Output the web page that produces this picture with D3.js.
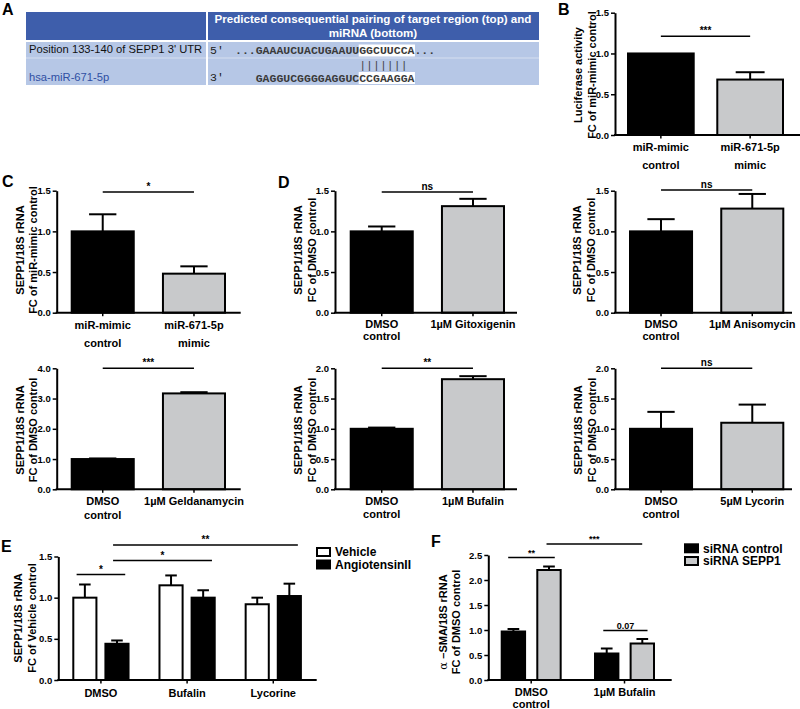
<!DOCTYPE html>
<html><head><meta charset="utf-8">
<script src="https://cdn.jsdelivr.net/npm/d3@7"></script>
<style>
body{margin:0;background:#fff}
svg{display:block}
</style>
</head><body>
<svg id="c" width="800" height="709" font-family='"Liberation Sans", Arial, Helvetica, sans-serif'></svg>
<script>
// ---------------- DATA ----------------
// Panel A (table)
const tableHeader = ["Predicted consequential pairing of target region (top) and", "miRNA (bottom)"];
const targetLabel = "Position 133-140 of SEPP1 3' UTR";
const mirnaLabel = "hsa-miR-671-5p";
const targetSeq = ["...GAAAUCUACUGAAUU", "GGCUUCCA", "..."];
const mirnaSeq = ["GAGGUCGGGGAGGUC", "CCGAAGGA"];
const pairing = "|||||||";

// Panel B
const bCats = ["miR-mimic\ncontrol", "miR-671-5p\nmimic"];
const bVals = [1.00, 0.68];
const bErrs = [0.00, 0.09];
const bSig = "***";

// Panel C (top) miRNA mimic
const c1Cats = ["miR-mimic\ncontrol", "miR-671-5p\nmimic"];
const c1Vals = [1.00, 0.48];
const c1Errs = [0.21, 0.09];
const c1Sig = "*";

// Panel C (bottom) Geldanamycin
const c2Cats = ["DMSO\ncontrol", "1µM Geldanamycin"];
const c2Vals = [1.00, 3.17];
const c2Errs = [0.02, 0.04];
const c2Sig = "***";

// Panel D
const dGitoCats = ["DMSO\ncontrol", "1µM Gitoxigenin"];
const dGitoVals = [1.00, 1.31];
const dGitoErrs = [0.06, 0.09];
const dAnisoCats = ["DMSO\ncontrol", "1µM Anisomycin"];
const dAnisoVals = [1.00, 1.28];
const dAnisoErrs = [0.15, 0.18];
const dBufCats = ["DMSO\ncontrol", "1µM Bufalin"];
const dBufVals = [1.00, 1.82];
const dBufErrs = [0.02, 0.05];
const dLycCats = ["DMSO\ncontrol", "5µM Lycorin"];
const dLycVals = [1.00, 1.10];
const dLycErrs = [0.28, 0.30];

// Panel E
const eGroups = ["DMSO", "Bufalin", "Lycorine"];
const eSeries = ["Vehicle", "AngiotensinII"];
const eVehicle = [1.00, 1.15, 0.92];
const eVehicleErr = [0.16, 0.12, 0.08];
const eAngII = [0.44, 1.00, 1.02];
const eAngIIErr = [0.04, 0.09, 0.15];

// Panel F
const fGroups = ["DMSO\ncontrol", "1µM Bufalin"];
const fSeries = ["siRNA control", "siRNA SEPP1"];
const fCtrl = [0.97, 0.53];
const fCtrlErr = [0.05, 0.10];
const fSEPP1 = [2.20, 0.73];
const fSEPP1Err = [0.07, 0.09];

// tick values
const ticks15 = [0, 0.5, 1.0, 1.5];
const ticks20 = [0, 0.5, 1.0, 1.5, 2.0];
const ticks25 = [0, 0.5, 1.0, 1.5, 2.0, 2.5];
const ticks40 = [0, 1, 2, 3, 4];

// ---------------- DRAW ----------------
const svg = d3.select("#c");
const FONT = '"Liberation Sans", Arial, Helvetica, sans-serif';
const MONO = '"Liberation Mono", "DejaVu Sans Mono", monospace';
const GREY = "#c8c9cb";
const fmt1 = d3.format(".1f");

function letter(t, x, y) {
  svg.append("text").attr("x", x).attr("y", y).attr("font-size", 16)
    .attr("font-weight", "bold").text(t);
}

function yTitle(lines, xs, cy, fs) {
  lines.forEach((ln, i) => {
    const t = svg.append("text")
      .attr("transform", `translate(${xs[i] + 4},${cy}) rotate(-90)`)
      .attr("text-anchor", "middle").attr("font-size", fs || 11)
      .attr("font-weight", "bold");
    if (typeof ln === "string") t.text(ln);
    else ln.forEach(part => t.append("tspan").attr("font-weight", part.w || "bold")
      .attr("font-family", part.f || null).text(part.t));
  });
}

function yAxis(y, x, ticks) {
  const g = svg.append("g").attr("transform", `translate(${x},0)`)
    .call(d3.axisLeft(y).tickValues(ticks).tickFormat(fmt1)
      .tickSize(4).tickSizeOuter(0).tickPadding(2));
  g.attr("font-family", FONT).attr("font-size", 9.5).attr("font-weight", "bold");
  g.select(".domain").attr("stroke-width", 2);
  g.selectAll(".tick line").attr("stroke-width", 1.5);
  g.selectAll(".tick text").attr("fill", "#000");
}

function xAxisLine(x1, x2, y0, tickXs) {
  svg.append("line").attr("x1", x1 - 1).attr("x2", x2).attr("y1", y0).attr("y2", y0)
    .attr("stroke", "#000").attr("stroke-width", 2);
  svg.append("g").selectAll("line").data(tickXs).join("line")
    .attr("x1", d => d).attr("x2", d => d).attr("y1", y0).attr("y2", y0 + 3.5)
    .attr("stroke", "#000").attr("stroke-width", 1.5);
}

function xLabels(items, cy, gap, fs) {
  items.forEach(it => {
    it.text.split("\n").forEach((ln, i) => {
      svg.append("text").attr("x", it.x).attr("y", cy + i * gap + 0.36 * (fs || 11))
        .attr("text-anchor", "middle").attr("font-size", fs || 11)
        .attr("font-weight", "bold").text(ln);
    });
  });
}

function sigLine(xa, xb, yv, label, fs) {
  svg.append("line").attr("x1", xa).attr("x2", xb).attr("y1", yv).attr("y2", yv)
    .attr("stroke", "#000").attr("stroke-width", 1.5);
  svg.append("text").attr("x", (xa + xb) / 2).attr("y", yv - 2)
    .attr("text-anchor", "middle").attr("font-size", fs || 10)
    .attr("font-weight", "bold").text(label);
}

function errBar(cx, w, yTop, yErr) {
  if (Math.abs(yTop - yErr) < 0.01) return;
  svg.append("line").attr("x1", cx).attr("x2", cx).attr("y1", yTop).attr("y2", yErr)
    .attr("stroke", "#000").attr("stroke-width", 2);
  svg.append("line").attr("x1", cx - w / 2).attr("x2", cx + w / 2).attr("y1", yErr).attr("y2", yErr)
    .attr("stroke", "#000").attr("stroke-width", 2);
}

function twoBar(p) {
  const y = d3.scaleLinear().domain([0, p.max]).range([p.y0, p.yTop]);
  const x = d3.scaleBand().domain(p.cats).range(p.barRange).paddingInner(p.pi).paddingOuter(0);
  const bw = x.bandwidth();
  p.cats.forEach((c, i) => {
    errBar(x(c) + bw / 2, bw * 0.44, y(p.vals[i]), y(p.vals[i] + p.errs[i]));
  });
  svg.append("g").selectAll("rect").data(p.cats).join("rect")
    .attr("x", d => x(d)).attr("width", bw)
    .attr("y", (d, i) => y(p.vals[i])).attr("height", (d, i) => p.y0 - y(p.vals[i]))
    .attr("fill", (d, i) => i === 0 ? "#000" : GREY)
    .attr("stroke", "#000").attr("stroke-width", 2);
  const centers = p.cats.map(c => x(c) + bw / 2);
  yAxis(y, p.axX, p.ticks);
  xAxisLine(p.axX, p.axEnd, p.y0, centers);
  xLabels(p.cats.map((c, i) => ({ text: c, x: centers[i] })), p.labY, p.labGap);
  sigLine(centers[0], centers[1], y(p.sigY), p.sig);
  yTitle(p.title, p.titleX, p.titleY);
}

function grouped(p) {
  const y = d3.scaleLinear().domain([0, p.max]).range([p.y0, p.yTop]);
  const x0 = d3.scaleBand().domain(p.groups).range(p.barRange).paddingInner(p.pi).paddingOuter(0);
  const x1 = d3.scaleBand().domain(p.series).range([0, x0.bandwidth()]).paddingInner(p.pi1).paddingOuter(0);
  const bw = x1.bandwidth();
  p.series.forEach((s, si) => {
    p.groups.forEach((g, gi) => {
      const v = p.vals[si][gi], e = p.errs[si][gi];
      errBar(x0(g) + x1(s) + bw / 2, bw * 0.5, y(v), y(v + e));
    });
    svg.append("g").selectAll("rect").data(p.groups).join("rect")
      .attr("x", g => x0(g) + x1(s)).attr("width", bw)
      .attr("y", (g, gi) => y(p.vals[si][gi]))
      .attr("height", (g, gi) => p.y0 - y(p.vals[si][gi]))
      .attr("fill", p.fills[si]).attr("stroke", "#000").attr("stroke-width", 2);
  });
  const centers = p.groups.map(g => x0(g) + x0.bandwidth() / 2);
  yAxis(y, p.axX, p.ticks);
  xAxisLine(p.axX, p.axEnd, p.y0, centers);
  xLabels(p.groups.map((g, i) => ({ text: g, x: centers[i] })), p.labY, p.labGap);
  const gx = (g, f) => x0(g) + f * x0.bandwidth();
  p.sigs.forEach(s => sigLine(gx(s.a[0], s.a[1]), gx(s.b[0], s.b[1]), y(s.v), s.label, s.fs));
  yTitle(p.title, p.titleX, p.titleY);
  // legend
  p.series.forEach((s, si) => {
    const cy = p.legY + si * p.legGap;
    svg.append("rect").attr("x", p.legX).attr("y", cy - 4).attr("width", 13).attr("height", 8)
      .attr("fill", p.fills[si]).attr("stroke", "#000").attr("stroke-width", 2);
    svg.append("text").attr("x", p.legX + 18).attr("y", cy + 4.3).attr("font-size", 12)
      .attr("font-weight", "bold").text(s);
  });
}

// ---------- Panel A ----------
letter("A", 2, 15);
(function () {
  const L = 26, R = 539, S = 207;
  const HEAD = "#3e5eab", BODY = "#b6c7e6";
  svg.append("rect").attr("x", L).attr("y", 12).attr("width", R - L).attr("height", 28).attr("fill", HEAD);
  svg.append("rect").attr("x", L).attr("y", 42).attr("width", R - L).attr("height", 43).attr("fill", BODY);
  svg.append("line").attr("x1", S).attr("x2", S).attr("y1", 12).attr("y2", 85)
    .attr("stroke", "#fff").attr("stroke-width", 2);
  svg.append("line").attr("x1", L).attr("x2", R).attr("y1", 58).attr("y2", 58)
    .attr("stroke", "#fff").attr("stroke-opacity", 0.45).attr("stroke-width", 1);
  tableHeader.forEach((t, i) => {
    svg.append("text").attr("x", (S + R) / 2).attr("y", 23 + i * 13.7)
      .attr("text-anchor", "middle").attr("fill", "#fff").attr("font-size", 11.6)
      .attr("font-weight", "bold").text(t);
  });
  svg.append("text").attr("x", 29).attr("y", 52.5).attr("font-size", 11.2).attr("fill", "#111").text(targetLabel);
  svg.append("text").attr("x", 29).attr("y", 80.5).attr("font-size", 11.2).attr("fill", "#2f4fa3").text(mirnaLabel);
  const FS = 11.5;
  const mono = sel => sel.attr("font-family", MONO).attr("font-size", FS);
  mono(svg.append("text").attr("x", 210).attr("y", 53.5)).attr("fill", "#222").text("5'");
  mono(svg.append("text").attr("x", 210).attr("y", 81)).attr("fill", "#222").text("3'");
  // measure char width
  const probe = mono(svg.append("text")).text("AAAAAAAAAA");
  const cw = probe.node().getComputedTextLength() / 10;
  probe.remove();
  const x0 = 235;
  const hx = x0 + targetSeq[0].length * cw;
  // highlight rects
  svg.append("rect").attr("x", hx - 0.5).attr("y", 44.5).attr("width", targetSeq[1].length * cw + 1).attr("height", 12).attr("fill", "#fff");
  svg.append("rect").attr("x", hx - 0.5).attr("y", 72).attr("width", mirnaSeq[1].length * cw + 1).attr("height", 12).attr("fill", "#fff");
  mono(svg.append("text").attr("x", x0).attr("y", 54)).attr("font-weight", "bold")
    .attr("fill", "#3a3a3a").text(targetSeq.join(""));
  const bx = hx - mirnaSeq[0].length * cw;
  mono(svg.append("text").attr("x", bx).attr("y", 81.5)).attr("font-weight", "bold")
    .attr("fill", "#3a3a3a").text(mirnaSeq.join(""));
  mono(svg.append("text").attr("x", hx).attr("y", 68.5)).attr("fill", "#444").text(pairing);
})();

// ---------- Panel B ----------
letter("B", 558, 14.5);
twoBar({
  cats: bCats, vals: bVals, errs: bErrs, max: 1.5, ticks: ticks15,
  y0: 135, yTop: 12.7, axX: 615, axEnd: 800, barRange: [628, 783], pi: 0.264,
  labY: 147.5, labGap: 17.5, sig: bSig, sigY: 1.21,
  title: ["Luciferase activity", "FC of miR-mimic control"], titleX: [578.3, 591.7], titleY: 75
});

// ---------- Panel C ----------
letter("C", 2, 186.5);
twoBar({
  cats: c1Cats, vals: c1Vals, errs: c1Errs, max: 1.5, ticks: ticks15,
  y0: 312.7, yTop: 190.7, axX: 56.7, axEnd: 240.7, barRange: [71.7, 225], pi: 0.32,
  labY: 325, labGap: 18.5, sig: c1Sig, sigY: 1.485,
  title: ["SEPP1/18S rRNA", "FC of miR-mimic control"], titleX: [20, 33.3], titleY: 250
});
twoBar({
  cats: c2Cats, vals: c2Vals, errs: c2Errs, max: 4, ticks: ticks40,
  y0: 489.3, yTop: 368.3, axX: 56.7, axEnd: 240.7, barRange: [71.7, 225], pi: 0.32,
  labY: 500.7, labGap: 14, sig: c2Sig, sigY: 4.0,
  title: ["SEPP1/18S rRNA", "FC of DMSO control"], titleX: [20, 33.3], titleY: 430
});

// ---------- Panel D ----------
letter("D", 278, 188);
twoBar({
  cats: dGitoCats, vals: dGitoVals, errs: dGitoErrs, max: 1.5, ticks: ticks15,
  y0: 312.7, yTop: 190.7, axX: 335, axEnd: 517, barRange: [350.7, 504], pi: 0.32,
  labY: 324, labGap: 12.5, sig: "ns", sigY: 1.485,
  title: ["SEPP1/18S rRNA", "FC of DMSO control"], titleX: [298.3, 311.7], titleY: 250
});
twoBar({
  cats: dAnisoCats, vals: dAnisoVals, errs: dAnisoErrs, max: 1.5, ticks: ticks15,
  y0: 312.7, yTop: 190.7, axX: 615, axEnd: 792, barRange: [630, 783.3], pi: 0.32,
  labY: 324, labGap: 12.5, sig: "ns", sigY: 1.51,
  title: ["SEPP1/18S rRNA", "FC of DMSO control"], titleX: [577.3, 591], titleY: 250
});
twoBar({
  cats: dBufCats, vals: dBufVals, errs: dBufErrs, max: 2, ticks: ticks20,
  y0: 489.3, yTop: 368.3, axX: 335, axEnd: 517, barRange: [350.7, 504], pi: 0.32,
  labY: 500.7, labGap: 13.5, sig: "**", sigY: 2.0,
  title: ["SEPP1/18S rRNA", "FC of DMSO control"], titleX: [298.3, 311.7], titleY: 430
});
twoBar({
  cats: dLycCats, vals: dLycVals, errs: dLycErrs, max: 2, ticks: ticks20,
  y0: 489.3, yTop: 368.3, axX: 615, axEnd: 792, barRange: [630, 783.3], pi: 0.32,
  labY: 500.7, labGap: 13.5, sig: "ns", sigY: 2.0,
  title: ["SEPP1/18S rRNA", "FC of DMSO control"], titleX: [578.3, 591.7], titleY: 430
});

// ---------- Panel E ----------
letter("E", 1, 551.5);
grouped({
  groups: eGroups, series: eSeries, vals: [eVehicle, eAngII], errs: [eVehicleErr, eAngIIErr],
  fills: ["#fff", "#000"], max: 1.5, ticks: ticks15,
  y0: 680, yTop: 556.5, axX: 58.3, axEnd: 316.7, barRange: [73.3, 300.9], pi: 0.359, pi1: 0.28,
  labY: 693.3, labGap: 13,
  sigs: [
    { a: ["DMSO", 0.06], b: ["DMSO", 0.94], v: 1.28, label: "*" },
    { a: ["DMSO", 0.72], b: ["Bufalin", 0.95], v: 1.45, label: "*" },
    { a: ["DMSO", 0.72], b: ["Lycorine", 0.945], v: 1.64, label: "**" }
  ],
  title: ["SEPP1/18S rRNA", "FC of Vehicle control"], titleX: [18.3, 32.3], titleY: 618,
  legX: 317, legY: 552, legGap: 12.5
});

// ---------- Panel F ----------
letter("F", 431, 546.5);
grouped({
  groups: fGroups, series: fSeries, vals: [fCtrl, fSEPP1], errs: [fCtrlErr, fSEPP1Err],
  fills: ["#000", GREY], max: 2.5, ticks: ticks25,
  y0: 680, yTop: 555, axX: 488.3, axEnd: 671.7, barRange: [501.7, 654], pi: 0.368, pi1: 0.343,
  labY: 692.3, labGap: 11.8,
  sigs: [
    { a: ["DMSO\ncontrol", 0.11], b: ["DMSO\ncontrol", 0.9], v: 2.45, label: "**", fs: 9 },
    { a: ["DMSO\ncontrol", 0.76], b: ["1µM Bufalin", 0.8], v: 2.72, label: "***", fs: 9 },
    { a: ["1µM Bufalin", 0.14], b: ["1µM Bufalin", 0.89], v: 0.99, label: "0.07", fs: 9 }
  ],
  title: [[{ t: "α ", w: "normal", f: '"DejaVu Serif", serif' }, { t: "–SMA/18S rRNA" }], "FC of DMSO control"],
  titleX: [443.3, 456], titleY: 622,
  legX: 685, legY: 548.3, legGap: 12.7
});
</script>
</body></html>
